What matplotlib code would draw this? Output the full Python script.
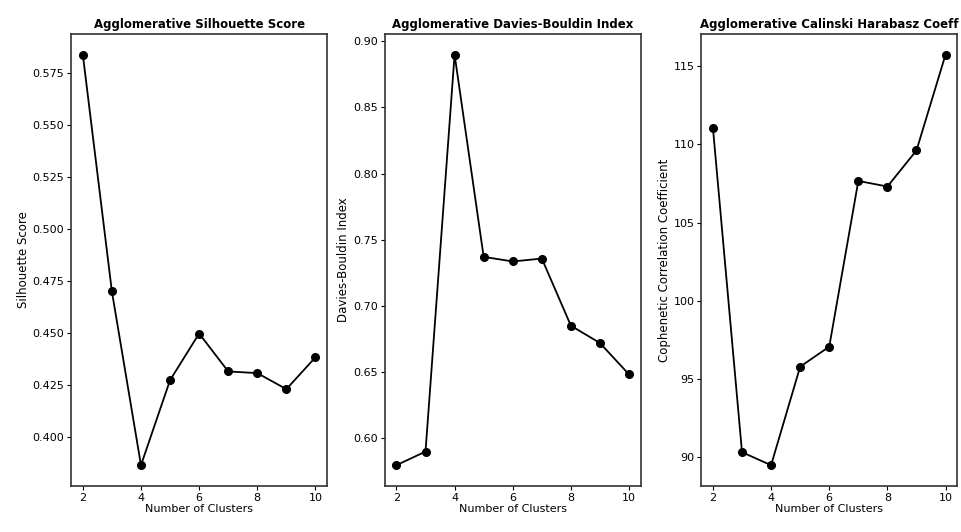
import matplotlib
matplotlib.use("Agg")
import matplotlib.pyplot as plt

clusters = [2, 3, 4, 5, 6, 7, 8, 9, 10]
silhouette = [0.5838, 0.4701, 0.3867, 0.4275, 0.4499, 0.4317, 0.4309, 0.4232, 0.4385]
davies_bouldin = [0.5794, 0.5897, 0.8900, 0.7370, 0.7335, 0.7357, 0.6849, 0.6718, 0.6480]
calinski = [111.06, 90.32, 89.49, 95.79, 97.07, 107.67, 107.31, 109.62, 115.75]

titles = ["Agglomerative Silhouette Score",
          "Agglomerative Davies-Bouldin Index",
          "Agglomerative Calinski Harabasz Coeff"]
ylabels = ["Silhouette Score", "Davies-Bouldin Index",
           "Cophenetic Correlation Coefficient"]
series = [silhouette, davies_bouldin, calinski]

fig = plt.figure(figsize=(9.62, 5.32), dpi=100)
lefts = [0.074, 0.400, 0.729]
width = 0.266
bottom, top = 0.087, 0.936
for i in range(3):
    ax = fig.add_axes([lefts[i], bottom, width, top - bottom])
    ax.plot(clusters, series[i], color="black", marker="o", markersize=5.5, linewidth=1.3)
    ax.set_title(titles[i], fontsize=8.5, fontweight="semibold", pad=4)
    ax.set_xlabel("Number of Clusters", fontsize=8, labelpad=1)
    ax.set_ylabel(ylabels[i], fontsize=8.5, labelpad=2)
    ax.set_xticks([2, 4, 6, 8, 10])
    ax.tick_params(labelsize=8, length=3, pad=2)
    for s in ax.spines.values():
        s.set_linewidth(1.2)
        s.set_color("#333333")

fig.savefig("out.png", dpi=100)
